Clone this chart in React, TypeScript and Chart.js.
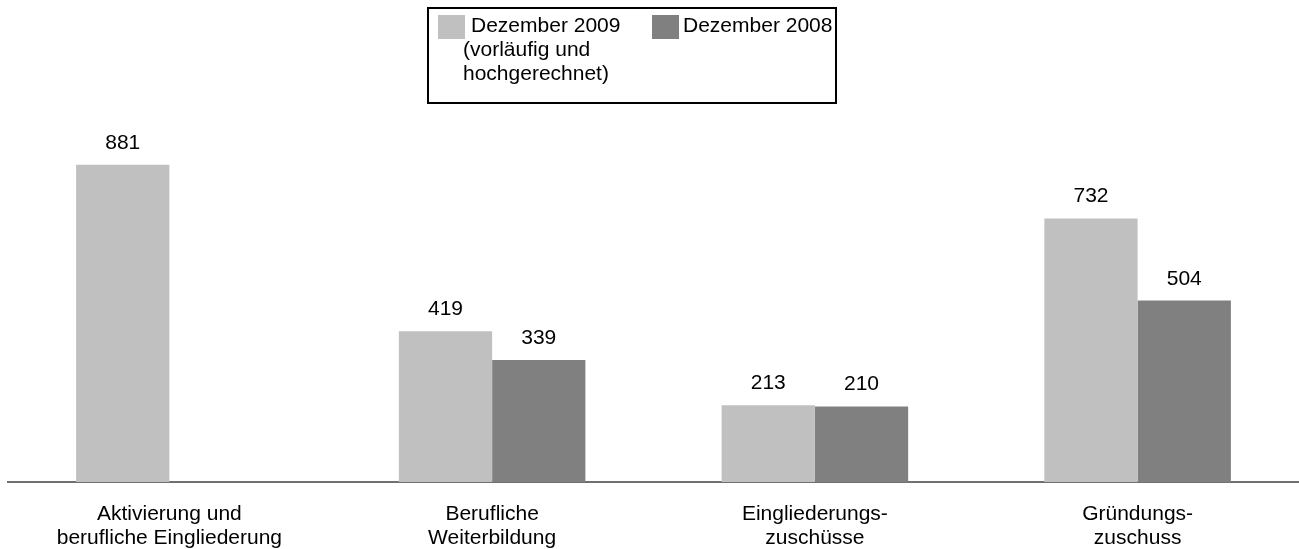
import React, { useEffect, useRef } from "react";
import { Chart, registerables } from "chart.js";

Chart.register(...registerables);

const categories: string[][] = [
  ["Aktivierung und", "berufliche Eingliederung"],
  ["Berufliche", "Weiterbildung"],
  ["Eingliederungs-", "zuschüsse"],
  ["Gründungs-", "zuschuss"],
];
const series2009: (number | null)[] = [881, 419, 213, 732];
const series2008: (number | null)[] = [null, 339, 210, 504];
const legend2009: string[] = ["Dezember 2009", "(vorläufig und", "hochgerechnet)"];
const legend2008: string[] = ["Dezember 2008"];
const color2009 = "#C0C0C0";
const color2008 = "#808080";

const FONT = "'Liberation Sans', Arial, sans-serif";

const valueLabels = {
  id: "valueLabels",
  afterDatasetsDraw(chart: any) {
    const ctx = chart.ctx;
    ctx.save();
    ctx.font = `21px ${FONT}`;
    ctx.fillStyle = "#000";
    ctx.textAlign = "center";
    ctx.textBaseline = "alphabetic";
    chart.data.datasets.forEach((ds: any, i: number) => {
      const meta = chart.getDatasetMeta(i);
      meta.data.forEach((el: any, j: number) => {
        const v = ds.data[j];
        if (v === null || v === undefined) return;
        ctx.fillText(String(v), el.x, el.y - 16);
      });
    });
    ctx.restore();
  },
};

export default function App() {
  const ref = useRef<HTMLCanvasElement | null>(null);
  useEffect(() => {
    if (!ref.current) return;
    const chart = new Chart(ref.current, {
      type: "bar",
      data: {
        labels: categories,
        datasets: [
          {
            label: legend2009.join(" "),
            data: series2009,
            backgroundColor: color2009,
            borderWidth: 0,
            categoryPercentage: 0.578,
            barPercentage: 1,
          },
          {
            label: legend2008.join(" "),
            data: series2008,
            backgroundColor: color2008,
            borderWidth: 0,
            categoryPercentage: 0.578,
            barPercentage: 1,
          },
        ],
      },
      options: {
        animation: false,
        responsive: false,
        devicePixelRatio: 1,
        layout: { padding: { top: 122, left: 8, right: 0, bottom: 0 } },
        plugins: {
          legend: { display: false },
          tooltip: { enabled: false },
        },
        scales: {
          x: {
            grid: { display: false, drawTicks: false },
            border: { display: true, color: "#707070", width: 2 },
            ticks: {
              color: "#000",
              padding: 20,
              maxRotation: 0,
              autoSkip: false,
              font: { family: FONT, size: 21, lineHeight: "24px" as any },
            },
            afterFit(scale: any) {
              scale.height = 67;
            },
          },
          y: {
            display: false,
            min: 0,
            max: 1000,
          },
        },
      },
      plugins: [valueLabels],
    });
    return () => chart.destroy();
  }, []);

  const textStyle: React.CSSProperties = {
    position: "absolute",
    fontFamily: FONT,
    fontSize: 21,
    lineHeight: "24px",
    color: "#000",
    whiteSpace: "pre",
  };

  return (
    <div style={{ position: "absolute", left: 0, top: 0, width: 1299, height: 549, background: "#fff" }}>
      <canvas ref={ref} width={1299} height={549} style={{ position: "absolute", left: 0, top: 0 }} />
      <div
        style={{
          position: "absolute",
          left: 427,
          top: 7,
          width: 410,
          height: 97,
          border: "2px solid #000",
          boxSizing: "border-box",
        }}
      />
      <div style={{ position: "absolute", left: 438, top: 15, width: 27, height: 24, background: color2009 }} />
      <div style={{ ...textStyle, left: 463, top: 13 }}>
        {legend2009.map((t, i) => (
          <div key={i} style={{ paddingLeft: i === 0 ? 8 : 0 }}>{t}</div>
        ))}
      </div>
      <div style={{ position: "absolute", left: 652, top: 15, width: 27, height: 24, background: color2008 }} />
      <div style={{ ...textStyle, left: 683, top: 13 }}>
        {legend2008.map((t, i) => (
          <div key={i}>{t}</div>
        ))}
      </div>
    </div>
  );
}
